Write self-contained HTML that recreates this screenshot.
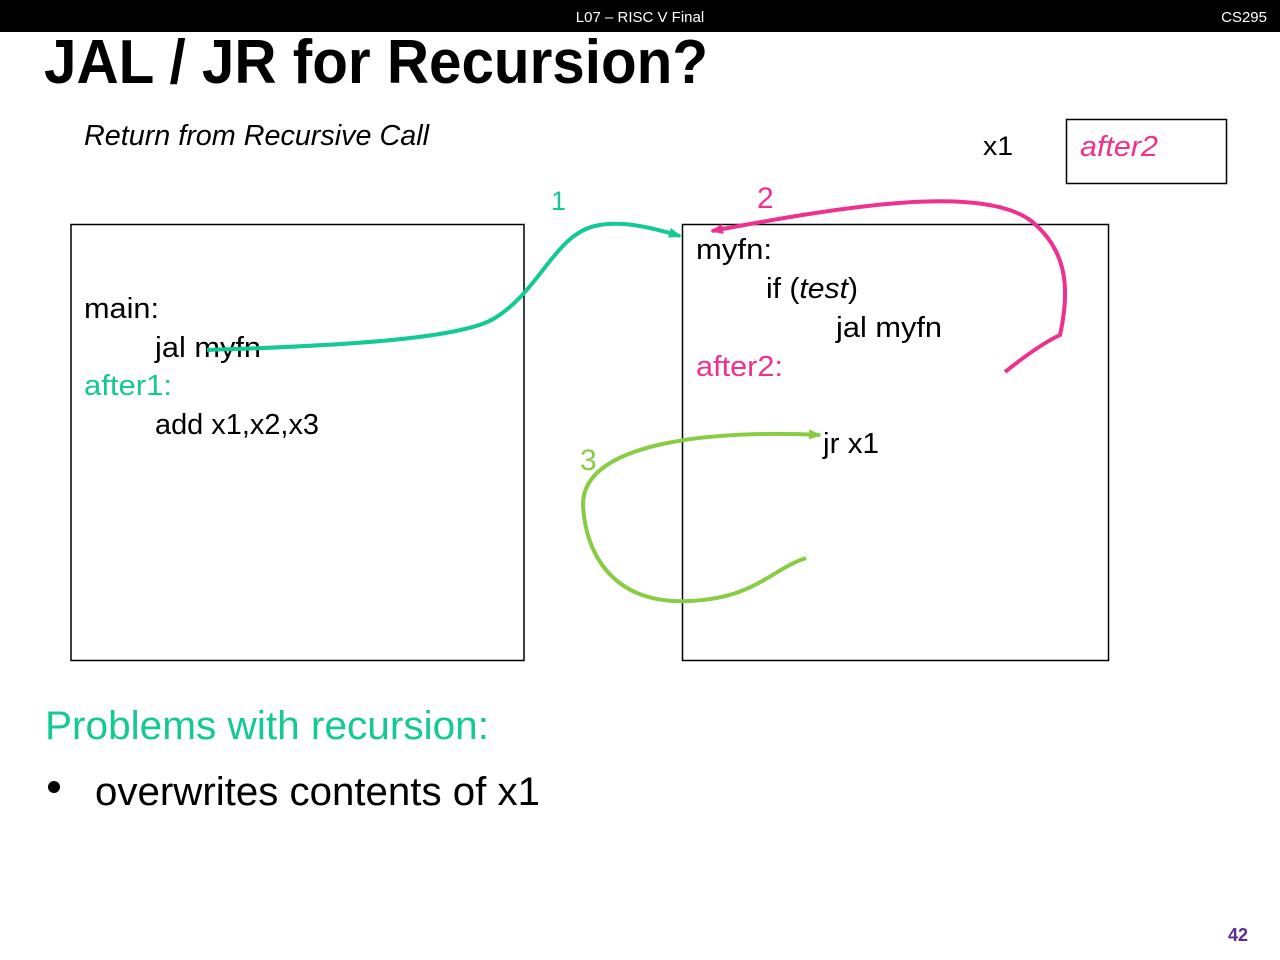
<!DOCTYPE html>
<html><head><meta charset="utf-8"><style>
html,body{margin:0;padding:0;background:#fff;width:1280px;height:960px;overflow:hidden}
svg{display:block}
text{font-family:"Liberation Sans",sans-serif}
</style></head><body>
<svg width="1280" height="960" viewBox="0 0 1280 960" xmlns="http://www.w3.org/2000/svg">
<defs>
<marker id="ag" markerWidth="14" markerHeight="14" refX="11" refY="7" orient="auto" markerUnits="userSpaceOnUse"><path d="M0,2 L13,7 L0,12 z" fill="#13c995"/></marker>
<marker id="ap" markerWidth="14" markerHeight="14" refX="11" refY="7" orient="auto" markerUnits="userSpaceOnUse"><path d="M0,2 L13,7 L0,12 z" fill="#f0308f"/></marker>
<marker id="al" markerWidth="14" markerHeight="14" refX="11" refY="7" orient="auto" markerUnits="userSpaceOnUse"><path d="M0,2 L13,7 L0,12 z" fill="#88cc44"/></marker>
</defs>
<rect x="0" y="0" width="1280" height="32" fill="#000"/>
<text x="640" y="22" fill="#fff" font-size="15" text-anchor="middle">L07 – RISC V Final</text>
<text x="1267" y="22" fill="#fff" font-size="15" text-anchor="end">CS295</text>
<text x="44" y="83" font-size="62" font-weight="bold" textLength="664" lengthAdjust="spacingAndGlyphs">JAL / JR for Recursion?</text>
<text x="84" y="145" font-size="29" font-style="italic" textLength="345" lengthAdjust="spacingAndGlyphs">Return from Recursive Call</text>
<text x="983" y="155" font-size="27" textLength="30" lengthAdjust="spacingAndGlyphs">x1</text>
<rect x="1066.5" y="119.5" width="160" height="64" fill="none" stroke="#000" stroke-width="1.5"/>
<text x="1080" y="156" font-size="29" font-style="italic" fill="#f0308f" textLength="78" lengthAdjust="spacingAndGlyphs">after2</text>
<rect x="71" y="224.5" width="453" height="436" fill="none" stroke="#000" stroke-width="1.5"/>
<rect x="682.5" y="224.5" width="426" height="436" fill="none" stroke="#000" stroke-width="1.5"/>
<g font-size="29">
<text x="84" y="318" textLength="75" lengthAdjust="spacingAndGlyphs">main:</text>
<text x="155" y="357" textLength="106" lengthAdjust="spacingAndGlyphs">jal myfn</text>
<text x="84" y="395" fill="#13c995" textLength="88" lengthAdjust="spacingAndGlyphs">after1:</text>
<text x="155" y="434" textLength="164" lengthAdjust="spacingAndGlyphs">add x1,x2,x3</text>
<text x="696" y="259" textLength="76" lengthAdjust="spacingAndGlyphs">myfn:</text>
<text x="766" y="298" textLength="92" lengthAdjust="spacingAndGlyphs">if (<tspan font-style="italic">test</tspan>)</text>
<text x="836" y="337" textLength="106" lengthAdjust="spacingAndGlyphs">jal myfn</text>
<text x="696" y="376" fill="#f0308f" textLength="87" lengthAdjust="spacingAndGlyphs">after2:</text>
<text x="823" y="453" textLength="56" lengthAdjust="spacingAndGlyphs">jr x1</text>
</g>
<text x="551" y="210" font-size="27" fill="#13c995">1</text>
<text x="757" y="208" font-size="30" fill="#f0308f">2</text>
<text x="580" y="470" font-size="30" fill="#88cc44">3</text>
<path d="M207,350 C330,346 460,340 495,318 C540,290 555,235 595,226 C620,220 650,227 680,236" fill="none" stroke="#13c995" stroke-width="4" marker-end="url(#ag)"/>
<path d="M1005,372 C1025,356 1045,342 1060,335 C1070,290 1068,250 1030,220 C980,185 850,205 712,231" fill="none" stroke="#f0308f" stroke-width="4" marker-end="url(#ap)"/>
<path d="M806,558 C770,570 755,598 690,601 C610,605 585,550 583,505 C582,440 720,430 820,435" fill="none" stroke="#88cc44" stroke-width="4" marker-end="url(#al)"/>
<text x="45" y="739" font-size="40" fill="#13c995" textLength="444" lengthAdjust="spacingAndGlyphs">Problems with recursion:</text>
<circle cx="54" cy="787" r="6" fill="#000"/>
<text x="95" y="805" font-size="40" textLength="445" lengthAdjust="spacingAndGlyphs">overwrites contents of x1</text>
<text x="1248" y="941" font-size="18" font-weight="bold" fill="#5b2c8f" text-anchor="end">42</text>
</svg>
</body></html>
